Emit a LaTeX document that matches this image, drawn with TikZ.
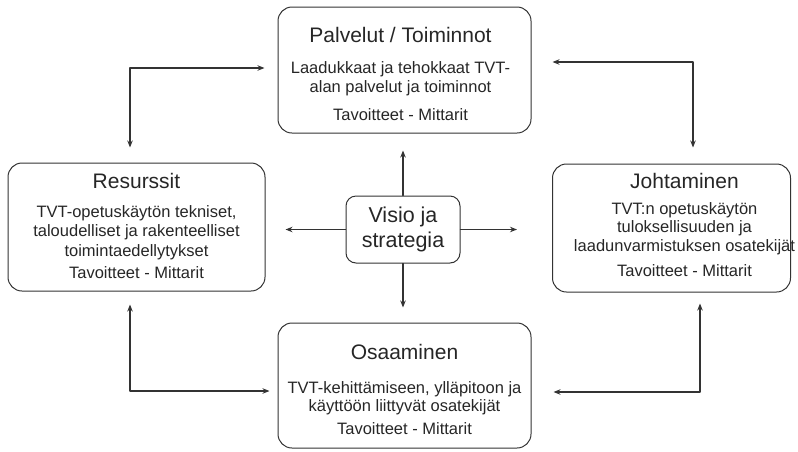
\documentclass[tikz,border=0pt]{standalone}
\usepackage{fontspec}
\setmainfont{Liberation Sans}
\usetikzlibrary{arrows.meta}
\newcommand\otsikko[1]{{\fontsize{21}{24}\selectfont #1}}
\begin{document}
\begin{tikzpicture}[x=1pt, y=-1pt, >={Stealth[length=7pt,width=5.5pt]}, line cap=round, line join=round,
  laatikko/.style={draw=black!80, line width=1pt, rounded corners=14pt, inner sep=0pt},
  teksti/.style={align=center, inner sep=0pt, font=\fontsize{16.5}{18.5}\selectfont, text=black!85},
  nuoli/.style={draw=black!80, line width=1.2pt}]
\useasboundingbox (0,0) rectangle (798,451);
\node[laatikko, minimum width=253pt, minimum height=126pt] (pal) at (404.5,70) {};
\node[laatikko, minimum width=257pt, minimum height=128pt] (res) at (136.5,227) {};
\node[laatikko, minimum width=238pt, minimum height=128pt] (joh) at (671.5,228) {};
\node[laatikko, minimum width=253pt, minimum height=125pt] (osa) at (404.5,385.5) {};
\node[teksti] (palteksti) at ([shift={(-4,4)}]pal.center)
  {\otsikko{Palvelut / Toiminnot}\\[13pt]Laadukkaat ja tehokkaat TVT-\\alan palvelut ja toiminnot\\[10pt]Tavoitteet - Mittarit};
\node[teksti, font=\fontsize{16.5}{19.5}\selectfont] (resteksti) at ([shift={(0,-1)}]res.center)
  {\otsikko{Resurssit}\\[9pt]TVT-opetusk\"ayt\"on tekniset,\\taloudelliset ja rakenteelliset\\toimintaedellytykset\\[3pt]Tavoitteet - Mittarit};
\node[teksti] (johteksti) at ([shift={(13,-3)}]joh.center)
  {\otsikko{Johtaminen}\\[7pt]TVT:n opetusk\"ayt\"on\\tuloksellisuuden ja\\laadunvarmistuksen osatekij\"at\\[7pt]Tavoitteet - Mittarit};
\node[teksti] (osateksti) at ([shift={(0,4)}]osa.center)
  {\otsikko{Osaaminen}\\[15pt]TVT-kehitt\"amiseen, yll\"apitoon ja\\k\"aytt\"o\"on liittyv\"at osatekij\"at\\[4pt]Tavoitteet - Mittarit};
\node[laatikko, teksti, draw=black!80, line width=1pt, rounded corners=10pt, minimum width=114pt, minimum height=67pt,
  font=\fontsize{21.5}{25}\selectfont] (vis) at (403,229.5) {Visio ja\\strategia};
\coordinate (kv) at (130,68);
\coordinate (ko) at (693,62);
\coordinate (av) at (130,391);
\coordinate (ao) at (700,392);
\draw[nuoli,->,shorten >=17pt] (vis.north) -- (vis.north |- pal.south);
\draw[nuoli,->,shorten >=15pt] (vis.south) -- (vis.south |- osa.north);
\draw[nuoli,->,shorten >=20pt] (vis.west) -- (vis.west -| res.east);
\draw[nuoli,->,shorten >=35pt] (vis.east) -- (vis.east -| joh.west);
\draw[nuoli,<->,shorten <=15pt,shorten >=13pt] (res.north -| kv) -- (kv) -- (kv -| pal.west);
\draw[nuoli,<->,shorten <=21pt,shorten >=16pt] (ko -| pal.east) -- (ko) -- (ko |- joh.north);
\draw[nuoli,<->,shorten <=13pt,shorten >=8pt] (res.south -| av) -- (av) -- (av -| osa.west);
\draw[nuoli,<->,shorten <=11pt,shorten >=22pt] (joh.south -| ao) -- (ao) -- (ao -| osa.east);
\end{tikzpicture}
\end{document}
